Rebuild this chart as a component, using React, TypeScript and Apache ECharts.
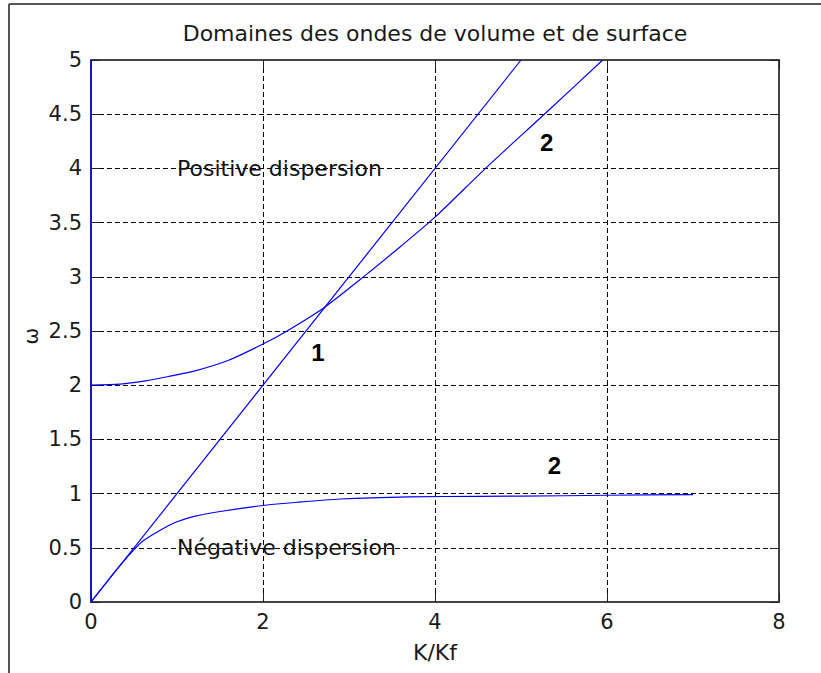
import React, { useEffect, useRef } from 'react';
import * as echarts from 'echarts';

const chartTitle = 'Domaines des ondes de volume et de surface';
const xAxisName = 'K/Kf';
const yAxisName = 'ω';

// Curve 1: straight line
const curve1: number[][] = [
  [0, 0], [5, 5],
];

// Curve 2 (upper branch)
const curve2Upper: number[][] = [
  [0, 2.0], [0.34, 2.01], [0.63, 2.04], [0.9, 2.08], [1.2, 2.13], [1.6, 2.23],
  [2.0, 2.38], [2.3, 2.51], [2.7, 2.71], [3.2, 3.02], [3.6, 3.28], [4.0, 3.55],
  [4.6, 4.01], [5.3, 4.52], [5.95, 5.0],
];

// Curve 2 (lower branch)
const curve2Lower: number[][] = [
  [0, 0], [0.15, 0.15], [0.3, 0.3], [0.45, 0.44], [0.6, 0.56], [0.8, 0.66],
  [1.0, 0.74], [1.2, 0.79], [1.5, 0.835], [2.0, 0.89], [2.4, 0.92], [2.9, 0.95],
  [3.7, 0.97], [4.5, 0.975], [5.5, 0.98], [6.0, 0.985], [7.0, 0.99],
];

// Vertical line along K = 0
const kZeroLine: number[][] = [
  [0, 0], [0, 5],
];

const regionLabels = [
  { name: 'Positive dispersion', value: [1.0, 4.0] },
  { name: 'Négative dispersion', value: [1.0, 0.5] },
];

const curveNumbers = [
  { name: '1', value: [2.56, 2.3] },
  { name: '2', value: [5.22, 4.24] },
  { name: '2', value: [5.31, 1.26] },
];

const FONT = 'DejaVu Sans';

export default function App() {
  const ref = useRef<HTMLDivElement>(null);

  useEffect(() => {
    if (!ref.current) return;
    const chart = echarts.init(ref.current, null, { renderer: 'svg' });

    const axisLine = { show: true, onZero: false, lineStyle: { color: '#444', width: 2 } };
    const tick = { show: true, inside: true, length: 9, lineStyle: { color: '#222', width: 1 } };
    const split = { show: true, lineStyle: { color: '#000', width: 1, type: [5, 3] as any } };
    const labelFont = { fontFamily: FONT, fontSize: 21, color: '#1a1a1a' };

    const lineSeries = (data: number[][], smooth: number | boolean) => ({
      type: 'line',
      data,
      showSymbol: false,
      symbol: 'none',
      smooth,
      lineStyle: { color: '#0000ff', width: 1.2 },
      z: 3,
      silent: true,
    });

    const labelSeries = (data: any[], labelStyle: any) => ({
      type: 'scatter',
      data,
      symbolSize: 0.1,
      itemStyle: { color: '#000', opacity: 1 },
      silent: true,
      z: 4,
      label: {
        show: true, position: 'right', distance: 0, formatter: '{b}',
        opacity: 1, textBorderWidth: 0,
        ...labelStyle,
      },
    });

    chart.setOption({
      animation: false,
      backgroundColor: '#fff',
      grid: { left: 91, top: 60, right: 42, bottom: 71, containLabel: false },
      xAxis: [
        {
          type: 'value', min: 0, max: 8, interval: 2, position: 'bottom',
          axisLine, axisTick: tick, splitLine: split,
          axisLabel: { ...labelFont, margin: 9 },
          name: xAxisName, nameLocation: 'middle', nameGap: 39,
          nameTextStyle: { fontFamily: FONT, fontSize: 22, color: '#1a1a1a' },
        },
        {
          type: 'value', min: 0, max: 8, interval: 2, position: 'top',
          axisLine, axisTick: tick, splitLine: { show: false }, axisLabel: { show: false },
        },
      ],
      yAxis: [
        {
          type: 'value', min: 0, max: 5, interval: 0.5, position: 'left',
          axisLine, axisTick: tick, splitLine: split,
          axisLabel: { ...labelFont, margin: 9 },
        },
        {
          type: 'value', min: 0, max: 5, interval: 0.5, position: 'right',
          axisLine, axisTick: tick, splitLine: { show: false }, axisLabel: { show: false },
        },
      ],
      series: [
        lineSeries(kZeroLine, false),
        lineSeries(curve1, false),
        lineSeries(curve2Upper, 0.25),
        lineSeries(curve2Lower, 0.25),
        labelSeries(regionLabels, { fontFamily: FONT, fontSize: 22, color: '#111' }),
        labelSeries(curveNumbers, { fontFamily: 'Liberation Sans', fontSize: 24, fontWeight: 'bold', color: '#000' }),
      ],
      graphic: [
        { type: 'line', shape: { x1: 9, y1: 4, x2: 821, y2: 4 }, style: { stroke: '#555', lineWidth: 2 } },
        { type: 'line', shape: { x1: 9, y1: 4, x2: 9, y2: 673 }, style: { stroke: '#555', lineWidth: 2 } },
        {
          type: 'text', x: 435, y: 33,
          style: { text: chartTitle, align: 'center', verticalAlign: 'middle', fontFamily: FONT, fontSize: 22, fill: '#1a1a1a' },
        },
        {
          type: 'text', x: 31, y: 336, rotation: Math.PI / 2,
          style: { text: yAxisName, align: 'center', verticalAlign: 'middle', fontFamily: FONT, fontSize: 20, fill: '#1a1a1a' },
        },
      ],
    });

    return () => chart.dispose();
  }, []);

  return (
    <div
      ref={ref}
      style={{ position: 'fixed', left: 0, top: 0, width: 821, height: 673, background: '#fff' }}
    />
  );
}
